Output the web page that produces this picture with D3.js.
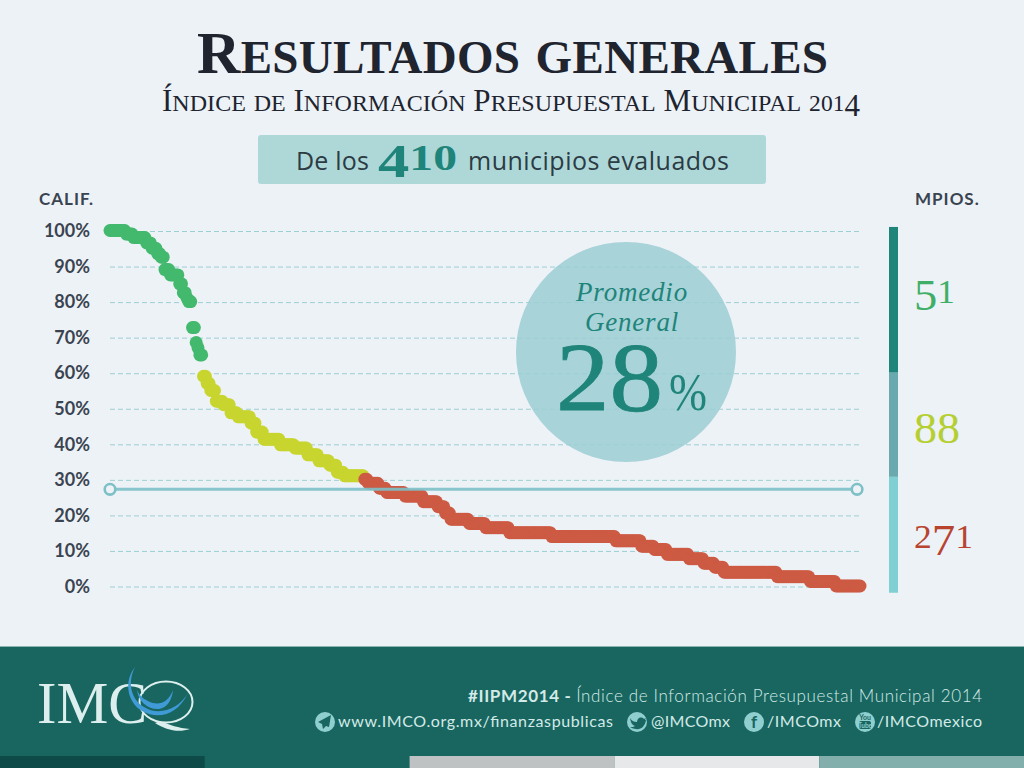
<!DOCTYPE html>
<html>
<head>
<meta charset="utf-8">
<style>
  html, body { margin: 0; padding: 0; background: #edf2f7; }
  svg { display: block; }
  .axis text { font-family: Lato, sans-serif; font-weight: 700; font-size: 18px; fill: #3a4450; }
  .axis line { stroke: #9ccfd3; stroke-dasharray: 5 3; }
  .serif { font-family: "Liberation Serif", serif; }
  .foot { font-family: Lato, sans-serif; fill: #d3eae8; }
</style>
<script src="https://cdnjs.cloudflare.com/ajax/libs/d3/7.8.5/d3.min.js"></script>
</head>
<body>
<div id="chart"></div>
<script>
// scores, as plateaus: score + how many municipios sit on it
const greenScores = [100, 99, 98, 96.5, 95, 93.5, 92.5, 89, 87.5, 85, 82.5, 81, 80, 72.7, 68.5, 67, 65];
const greenCounts = [9, 4, 7, 3, 3, 2, 2, 3, 5, 2, 2, 1, 2, 2, 1, 1, 2];
const yellowScores = [59, 57, 55, 52, 51, 48.7, 47.6, 45.8, 43.3, 41.3, 39.7, 38.8, 36.9, 35.2, 34, 32, 31];
const yellowCounts = [2, 2, 3, 4, 4, 4, 7, 3, 4, 9, 8, 7, 6, 6, 4, 4, 11];
const redScores = [30, 28.9, 27.5, 26.3, 25.3, 23.7, 22.3, 20.5, 18.8, 17.6, 16.4, 15, 13.9, 12.7, 11.2, 10.3, 8.9, 7.7, 6.4, 5.3, 3.9, 2.6, 1.3, 0];
const redCounts = [2, 6, 4, 10, 10, 8, 4, 3, 10, 9, 13, 23, 35, 14, 7, 7, 12, 8, 6, 5, 29, 18, 14, 14];

const yTicks = [0, 10, 20, 30, 40, 50, 60, 70, 80, 90, 100];
const promedio = 27.2;
const promedioEnds = [1, 408.4];
const bandEdges = [101, 60, 30.7, -1.9];
const bandColors = ["#1f8479", "#6aa9ad", "#80cfd2"];
const groupLabels = ["51", "88", "271"];
const groupColors = ["#3fae66", "#b5cf33", "#b8432f"];
const footColors = ["#0e4a47", "#18665f", "#bfc2c2", "#e6e8ea", "#82aeab"];

const svg = d3.select("#chart").append("svg")
  .attr("width", 1024)
  .attr("height", 768);

svg.append("rect").attr("width", 1024).attr("height", 768).attr("fill", "#edf2f7");

const x = d3.scaleLinear().domain([1, 410]).range([110, 860]);
const y = d3.scaleLinear().domain([0, 100]).range([586, 230.5]);

// expand plateaus, rank keeps counting across the three groups
let rank = 0;
function expand(scores, counts, color) {
  const out = [];
  scores.forEach((s, i) => {
    for (let k = 0; k < counts[i]; k++) {
      rank++;
      out.push({ rank: rank, score: s, color: color });
    }
  });
  return out;
}
const points = []
  .concat(expand(greenScores, greenCounts, "#43b96e"))
  .concat(expand(yellowScores, yellowCounts, "#c8d52f"))
  .concat(expand(redScores, redCounts, "#cd5a43"));

// old style figures are not in the installed serif, fake them digit by digit
function oldStyle(sel, str, size) {
  str.split("").forEach(c => {
    const small = "012".includes(c);
    const low = "34579".includes(c);
    sel.append("tspan")
      .attr("font-size", small ? size * 0.76 : size)
      .attr("baseline-shift", low ? -size * 0.16 : 0)
      .text(c);
  });
}

// small caps with our own ratio, font-variant gives them too small
function smallCaps(sel, str, big, little) {
  str.split("").forEach(c => {
    if (/[0-9]/.test(c)) {
      oldStyle(sel, c, big);
      return;
    }
    const lower = c === c.toLowerCase() && c !== c.toUpperCase();
    sel.append("tspan")
      .attr("font-size", lower ? little : big)
      .text(c.toUpperCase());
  });
}

// title
const title = svg.append("text").attr("class", "serif")
  .attr("x", 197).attr("y", 73)
  .attr("font-weight", 700)
  .attr("textLength", 631)
  .attr("fill", "#20242f");
smallCaps(title, "Resultados generales", 60, 47);

const subtitle = svg.append("text").attr("class", "serif")
  .attr("x", 162).attr("y", 111)
  .attr("textLength", 698)
  .attr("fill", "#20242f");
smallCaps(subtitle, "Índice de Información Presupuestal Municipal 2014", 31, 24);

// box
svg.append("rect")
  .attr("x", 258).attr("y", 135).attr("width", 508).attr("height", 49).attr("rx", 3)
  .attr("fill", "#aed8d8");
svg.append("text")
  .attr("x", 296).attr("y", 170)
  .attr("font-family", "Open Sans, sans-serif").attr("font-size", 25)
  .attr("textLength", 73)
  .attr("fill", "#2c3b44")
  .text("De los");
const n410 = svg.append("text").attr("class", "serif")
  .attr("x", 378).attr("y", 170)
  .attr("font-weight", 700).attr("fill", "#1f8479")
  .attr("textLength", 79).attr("lengthAdjust", "spacingAndGlyphs");
oldStyle(n410, "410", 46);
svg.append("text")
  .attr("x", 468).attr("y", 170)
  .attr("font-family", "Open Sans, sans-serif").attr("font-size", 25)
  .attr("textLength", 261)
  .attr("fill", "#2c3b44")
  .text("municipios evaluados");

// promedio circle goes under the grid
svg.append("circle")
  .attr("cx", 626).attr("cy", 352).attr("r", 110)
  .attr("fill", "#a7d3d9");

// axis + grid
svg.append("g")
  .attr("class", "axis")
  .attr("transform", "translate(859,0.5)")
  .call(d3.axisLeft(y).tickValues(yTicks).tickSize(751).tickPadding(18).tickFormat(d => d + "%"))
  .call(g => g.select(".domain").remove());

svg.append("text")
  .attr("x", 39).attr("y", 205)
  .attr("font-family", "Lato, sans-serif").attr("font-weight", 700).attr("font-size", 17)
  .attr("letter-spacing", 1).attr("fill", "#3a4450")
  .text("CALIF.");
svg.append("text")
  .attr("x", 915).attr("y", 205)
  .attr("font-family", "Lato, sans-serif").attr("font-weight", 700).attr("font-size", 17)
  .attr("letter-spacing", 1).attr("fill", "#3a4450")
  .text("MPIOS.");

// points
svg.append("g").selectAll("circle")
  .data(points)
  .join("circle")
  .attr("cx", d => x(d.rank))
  .attr("cy", d => y(d.score))
  .attr("r", 6.5)
  .attr("fill", d => d.color);

// average line
const meanG = svg.append("g");
meanG.append("line")
  .attr("x1", x(promedioEnds[0])).attr("x2", x(promedioEnds[1]))
  .attr("y1", y(promedio)).attr("y2", y(promedio))
  .attr("stroke", "#7dc0c6").attr("stroke-width", 3).attr("stroke-opacity", 0.9);
meanG.selectAll("circle")
  .data(promedioEnds)
  .join("circle")
  .attr("cx", d => x(d))
  .attr("cy", y(promedio))
  .attr("r", 5.3)
  .attr("fill", "#edf2f7")
  .attr("stroke", "#7dc0c6").attr("stroke-width", 2.6);

// circle text
svg.append("text").attr("class", "serif")
  .attr("x", 632).attr("y", 301)
  .attr("text-anchor", "middle").attr("font-size", 27).attr("font-style", "italic")
  .attr("letter-spacing", 0.8).attr("fill", "#1f8479")
  .text("Promedio");
svg.append("text").attr("class", "serif")
  .attr("x", 632).attr("y", 331)
  .attr("text-anchor", "middle").attr("font-size", 27).attr("font-style", "italic")
  .attr("letter-spacing", 0.8).attr("fill", "#1f8479")
  .text("General");
svg.append("text").attr("class", "serif")
  .attr("x", 556).attr("y", 410)
  .attr("font-size", 98).attr("fill", "#1f8479")
  .attr("stroke", "#1f8479").attr("stroke-width", 0.8)
  .attr("textLength", 107).attr("lengthAdjust", "spacingAndGlyphs")
  .text("28");
svg.append("text").attr("class", "serif")
  .attr("x", 669).attr("y", 410)
  .attr("font-size", 52).attr("fill", "#1f8479")
  .attr("textLength", 38).attr("lengthAdjust", "spacingAndGlyphs")
  .text("%");

// right band
svg.append("g").selectAll("rect")
  .data(bandColors)
  .join("rect")
  .attr("x", 889).attr("width", 9)
  .attr("y", (d, i) => y(bandEdges[i]))
  .attr("height", (d, i) => y(bandEdges[i + 1]) - y(bandEdges[i]))
  .attr("fill", d => d);

[303, 443, 548].forEach((yy, i) => {
  const t = svg.append("text").attr("class", "serif")
    .attr("x", 914).attr("y", yy)
    .attr("fill", groupColors[i])
    .attr("textLength", [41, 46, 59][i]).attr("lengthAdjust", "spacingAndGlyphs");
  oldStyle(t, groupLabels[i], 44);
});

// footer
svg.append("rect").attr("y", 646).attr("width", 1024).attr("height", 1).attr("fill", "#8ab5b2");
svg.append("rect").attr("y", 647).attr("width", 1024).attr("height", 121).attr("fill", "#18665f");
svg.append("g").selectAll("rect")
  .data(footColors)
  .join("rect")
  .attr("x", (d, i) => i * 204.8).attr("y", 756)
  .attr("width", 204.8).attr("height", 12)
  .attr("fill", d => d);

// logo
svg.append("text").attr("class", "serif")
  .attr("x", 37).attr("y", 723)
  .attr("font-size", 59).attr("fill", "#dcefee")
  .attr("textLength", 110).attr("lengthAdjust", "spacingAndGlyphs")
  .text("IMC");
svg.append("ellipse")
  .attr("cx", 166).attr("cy", 702).attr("rx", 26.5).attr("ry", 20.5)
  .attr("fill", "none").attr("stroke", "#dcefee").attr("stroke-width", 2);
svg.append("path")
  .attr("d", "M160 721 C170 725 178 728 190 729 C178 733 166 730 155 723 Z")
  .attr("fill", "#dcefee");
svg.append("path")
  .attr("d", "M135 667 C123 682 128 703 142 711 C158 720 178 715 188 693 C178 710 158 716 144 707 C131 699 127 683 135 667 Z")
  .attr("fill", "#3f9ad6");
svg.append("path")
  .attr("d", "M137 690 C138 702 149 710 159 709 C167 708 172 700 173 690 C169 701 161 705 153 703 C146 701 140 697 137 690 Z")
  .attr("fill", "#3f9ad6");

// footer texts
const line1 = svg.append("text").attr("class", "foot")
  .attr("x", 468).attr("y", 702).attr("font-size", 17)
  .attr("textLength", 514).attr("fill", "#a9d6d4");
line1.append("tspan").attr("font-weight", 700).text("#IIPM2014 - ");
line1.append("tspan").attr("font-weight", 300).text("Índice de Información Presupuestal Municipal 2014");

const links = [
  { text: "www.IMCO.org.mx/finanzaspublicas", x: 338, w: 275, icon: 325 },
  { text: "@IMCOmx", x: 651, w: 79, icon: 637 },
  { text: "/IMCOmx", x: 767, w: 74, icon: 754 },
  { text: "/IMCOmexico", x: 877, w: 105, icon: 865 }
];
links.forEach(l => {
  svg.append("circle")
    .attr("cx", l.icon).attr("cy", 722).attr("r", 10)
    .attr("fill", "#8fcfd0");
  svg.append("text").attr("class", "foot")
    .attr("x", l.x).attr("y", 727).attr("font-size", 16).attr("font-weight", 400)
    .attr("textLength", l.w)
    .text(l.text);
});

// icon glyphs
const iconInk = "#18665f";
svg.append("path")
  .attr("d", "M331 715 L318 722 L322 724 L323 729 L326 726 L329 727 Z")
  .attr("fill", iconInk);
svg.append("path")
  .attr("d", "M630 718 C632 721 634 722 637 722 C637 718 641 716 644 719 L646 718 L645 720 L646 720 C645 727 640 730 636 729 C634 729 632 728 630 727 C632 727 634 727 635 726 C632 725 631 723 630 718 Z")
  .attr("fill", iconInk);
svg.append("text")
  .attr("x", 754).attr("y", 728)
  .attr("text-anchor", "middle")
  .attr("font-family", "Lato, sans-serif").attr("font-weight", 700).attr("font-size", 17)
  .attr("fill", iconInk)
  .text("f");
svg.append("text")
  .attr("x", 865).attr("y", 720)
  .attr("text-anchor", "middle")
  .attr("font-family", "Lato, sans-serif").attr("font-weight", 700).attr("font-size", 7)
  .attr("fill", iconInk)
  .text("You");
svg.append("rect")
  .attr("x", 859).attr("y", 721).attr("width", 12).attr("height", 8).attr("rx", 2)
  .attr("fill", iconInk);
svg.append("text")
  .attr("x", 865).attr("y", 727.5)
  .attr("text-anchor", "middle")
  .attr("font-family", "Lato, sans-serif").attr("font-weight", 700).attr("font-size", 6.5)
  .attr("fill", "#8fcfd0")
  .text("Tube");
</script>
</body>
</html>
